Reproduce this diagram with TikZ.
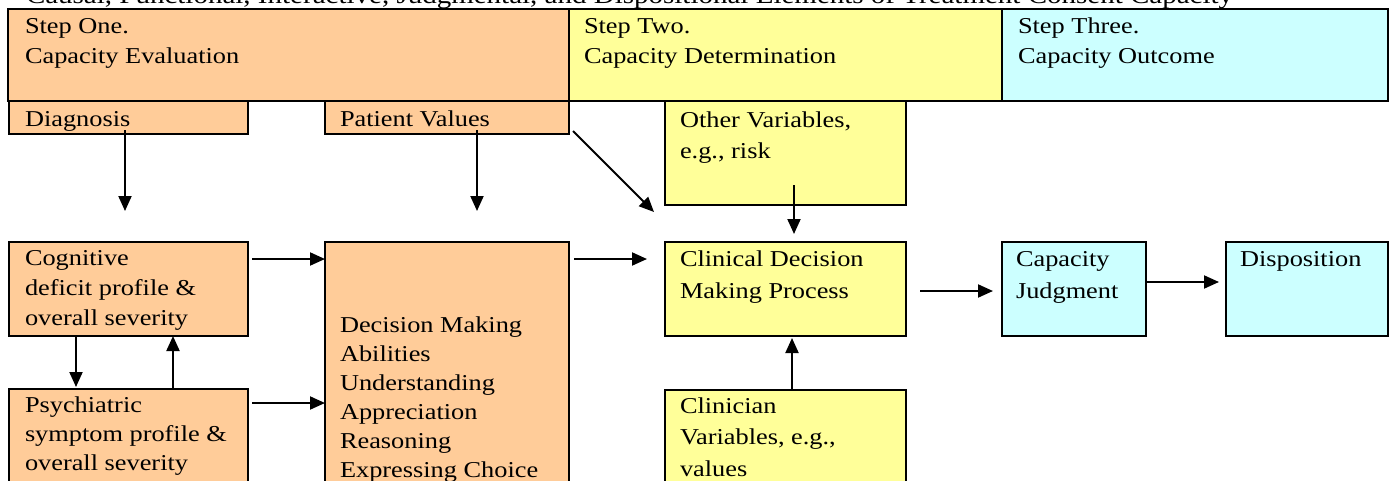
\documentclass[tikz,border=0pt]{standalone}
\usepackage{fontspec}
\setmainfont{Liberation Serif}
\usepackage{graphicx}
\usetikzlibrary{arrows.meta}
\definecolor{peach}{HTML}{FFCC99}
\definecolor{lemon}{HTML}{FFFF99}
\definecolor{skyc}{HTML}{CCFFFF}
\newcommand{\TT}[2][30]{\scalebox{1.16}[1]{\fontsize{22.7}{#1}\selectfont\begin{tabular}[t]{@{}l@{}}#2\end{tabular}}}
\tikzset{
  boxnode/.style={draw=black, line width=2.5pt, fill=#1, inner sep=0pt, outer sep=0pt, anchor=north west},
  txt/.style={inner sep=0pt, outer sep=0pt, anchor=base west},
  conn/.style={line width=2pt, -{Triangle[length=15pt,width=13pt]}}
}
\begin{document}
\begin{tikzpicture}[x=1pt,y=-1pt]
\useasboundingbox (0,0) rectangle (1390,480);
\node[txt] (title) at (26,3) {\scalebox{1.16}[1]{\fontsize{25}{30}\selectfont Causal, Functional, Interactive, Judgmental, and Dispositional Elements of Treatment Consent Capacity}};
% header
\node[boxnode=peach, minimum width=561pt, minimum height=92pt] (s1) at (8,9) {};
\node[boxnode=lemon, minimum width=433pt, minimum height=92pt] (s2) at (569,9) {};
\node[boxnode=skyc, minimum width=386pt, minimum height=92pt] (s3) at (1002,9) {};
% boxes
\node[boxnode=peach, minimum width=239pt, minimum height=33pt] (diag) at (9,101) {};
\node[boxnode=peach, minimum width=244pt, minimum height=33pt] (pv) at (325,101) {};
\node[boxnode=lemon, minimum width=241pt, minimum height=104pt] (ov) at (665,101) {};
\node[boxnode=peach, minimum width=239pt, minimum height=94pt] (cog) at (9,242) {};
\node[boxnode=peach, minimum width=239pt, minimum height=106pt] (psy) at (9,389) {};
\node[boxnode=peach, minimum width=244pt, minimum height=253pt] (dm) at (325,242) {};
\node[boxnode=lemon, minimum width=241pt, minimum height=94pt] (cdm) at (665,242) {};
\node[boxnode=skyc, minimum width=144pt, minimum height=94pt] (cj) at (1002,242) {};
\node[boxnode=skyc, minimum width=162pt, minimum height=94pt] (disp) at (1226,242) {};
\node[boxnode=lemon, minimum width=241pt, minimum height=105pt] (clin) at (665,390) {};
% texts
\node[txt] (t1) at (25,33) {\TT{Step One.\\Capacity Evaluation}};
\node[txt] (t2) at (584,33) {\TT{Step Two.\\Capacity Determination}};
\node[txt] (t3) at (1018,33) {\TT{Step Three.\\Capacity Outcome}};
\node[txt] (tdiag) at (25,126) {\TT{Diagnosis}};
\node[txt] (tpv) at (340,126) {\TT{Patient Values}};
\node[txt] (tov) at (680,127) {\TT[31.5]{Other Variables,\\e.g., risk}};
\node[txt] (tcog) at (25,265) {\TT{Cognitive\\deficit profile \&\\overall severity}};
\node[txt] (tpsy) at (25,412) {\TT[29]{Psychiatric\\symptom profile \&\\overall severity}};
\node[txt] (tdm) at (340,332) {\TT[29]{Decision Making\\Abilities\\Understanding\\Appreciation\\Reasoning\\Expressing Choice}};
\node[txt] (tcdm) at (680,266) {\TT[32]{Clinical Decision\\Making Process}};
\node[txt] (tcj) at (1016,266) {\TT[32]{Capacity\\Judgment}};
\node[txt] (tdisp) at (1240,266) {\TT{Disposition}};
\node[txt] (tclin) at (680,413) {\TT[31.5]{Clinician\\Variables, e.g.,\\values}};
% connector end points
\coordinate (a1s) at (125,130); \coordinate (a1e) at (125,211);
\coordinate (a2s) at (477,130); \coordinate (a2e) at (477,211);
\coordinate (a3s) at (573,131); \coordinate (a3e) at (654,212);
\coordinate (a4s) at (794,185); \coordinate (a4e) at (794,234);
\coordinate (a5s) at (792,390); \coordinate (a5e) at (792,338);
\coordinate (a6s) at (920,291); \coordinate (a6e) at (993,291);
\coordinate (a7s) at (1146,282); \coordinate (a7e) at (1219,282);
\coordinate (a8s) at (252,259); \coordinate (a8e) at (325,259);
\coordinate (a9s) at (252,403); \coordinate (a9e) at (325,403);
\coordinate (a10s) at (574,259); \coordinate (a10e) at (647,259);
\coordinate (a11s) at (76,336); \coordinate (a11e) at (76,387);
\coordinate (a12s) at (173,389); \coordinate (a12e) at (173,336);
\foreach \i in {1,...,12} \draw[conn] (a\i s) -- (a\i e);
\end{tikzpicture}
\end{document}
